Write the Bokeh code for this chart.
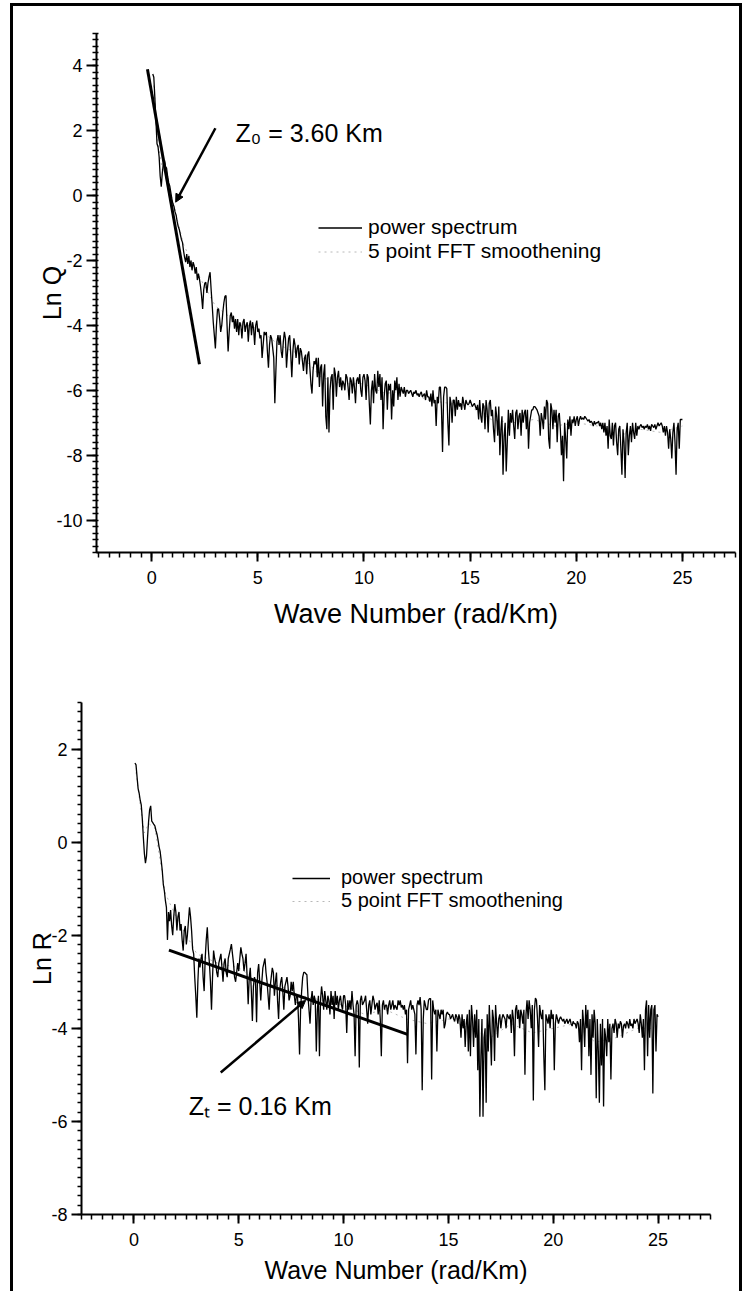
import numpy as np
from bokeh.plotting import figure
from bokeh.models import (Range1d, FixedTicker, Legend, LegendItem, Label, Arrow, NormalHead)
from bokeh.embed import file_html
from bokeh.resources import INLINE

# ---------------- data ----------------
K_STEP = 0.05  # wave-number sampling of the spectra (first sample at K_STEP)

ln_q = [
    3.75, 3.65, 3.0, 2.3, 1.6, 1.5, 1.2, 0.6, 0.28, 0.7, 1.0, 1.1, 0.9, 0.85, 0.6, 0.4, 0.3, 0.1, -0.1, -0.25,
    -0.33, -0.5, -0.6, -0.8, -0.95, -1.04, -1.2, -1.35, -1.44, -1.7, -1.9, -2.05, -1.8, -2.1, -1.86, -2.2, -2.0, -2.3, -2.05, -2.16,
    -2.4, -2.2, -2.6, -2.4, -2.57, -2.8, -3.1, -3.49, -2.9, -2.7, -2.67, -3.0, -2.7, -2.5, -2.36, -2.9, -3.38, -3.9, -4.3, -4.71,
    -4.0, -3.5, -3.49, -3.8, -4.2, -4.0, -3.6, -3.3, -3.1, -3.08, -4.0, -4.8, -4.2, -3.7, -3.6, -3.9, -3.7, -4.1, -3.8, -4.2,
    -3.8, -4.3, -3.9, -4.0, -4.4, -3.9, -3.8, -4.2, -4.0, -3.9, -4.5, -4.0, -3.85, -4.3, -3.9, -4.1, -4.6, -4.0, -3.85, -4.2,
    -4.1, -4.4, -4.3, -5.0, -4.6, -4.2, -4.3, -4.2, -4.8, -5.3, -4.6, -4.3, -4.4, -4.7, -5.0, -6.4, -5.4, -4.5, -4.3, -4.6,
    -4.3, -4.8, -5.0, -4.5, -4.2, -4.4, -5.3, -4.8, -4.4, -4.3, -4.9, -5.6, -4.8, -4.4, -4.6, -5.0, -4.7, -4.6, -5.2, -4.7,
    -4.8, -5.1, -5.4, -5.0, -4.9, -5.5, -4.9, -4.8, -5.3, -5.8, -6.1, -5.4, -5.1, -5.2, -5.0, -5.6, -5.0, -5.9, -5.3, -5.2,
    -6.5, -5.5, -5.2, -6.8, -7.2, -5.6, -7.3, -6.0, -5.6, -5.5, -6.6, -5.3, -5.5, -6.2, -5.6, -5.4, -5.9, -5.6, -6.0, -5.7,
    -5.8, -6.0, -5.5, -5.6, -5.9, -6.3, -5.6, -5.7, -6.1, -5.6, -5.9, -6.4, -5.7, -5.6, -5.8, -5.5, -6.0, -6.2, -5.6, -5.5,
    -5.7, -6.3, -5.5, -5.6, -6.4, -7.05, -6.0, -5.7, -6.4, -5.5, -6.0, -6.1, -5.4, -5.9, -5.5, -6.3, -5.6, -7.2, -6.2, -5.8,
    -5.7, -6.6, -5.8, -6.0, -5.8, -6.9, -6.0, -6.5, -5.7, -6.0, -5.6, -6.3, -5.8, -6.2, -5.9, -6.0, -6.1, -5.9, -6.2, -6.0,
    -6.0, -6.1, -6.05, -6.0, -6.1, -6.2, -6.05, -6.1, -6.0, -6.15, -6.1, -6.2, -6.1, -6.05, -6.2, -6.15, -6.1, -6.3, -6.0, -6.2,
    -6.2, -6.35, -6.1, -6.5, -6.0, -6.4, -6.3, -7.1, -6.2, -6.4, -5.9, -5.9, -6.6, -7.9, -6.2, -5.9, -5.9, -5.95, -7.0, -7.7,
    -6.2, -6.4, -7.0, -6.3, -6.3, -6.8, -6.2, -6.6, -6.3, -6.5, -6.4, -6.6, -6.2, -6.4, -6.6, -6.3, -6.4, -6.45, -6.4, -6.3,
    -6.4, -6.5, -6.45, -6.4, -6.5, -6.6, -6.45, -6.9, -6.3, -6.8, -7.0, -6.4, -6.5, -7.2, -6.3, -6.6, -7.3, -6.4, -6.3, -6.8,
    -6.6, -7.2, -7.6, -6.5, -6.8, -7.4, -6.5, -8.0, -7.2, -6.8, -8.6, -7.4, -7.0, -8.5, -7.6, -6.6, -7.4, -6.7, -7.0, -6.6,
    -7.1, -7.5, -6.7, -6.6, -7.2, -6.8, -6.7, -7.4, -6.6, -7.0, -6.7, -6.6, -7.2, -6.6, -7.8, -7.0, -6.8, -6.6, -6.6, -6.5,
    -6.5, -6.55, -6.6, -6.7, -6.8, -7.4, -6.7, -6.9, -7.2, -6.5, -6.9, -6.3, -6.4, -7.5, -7.8, -6.4, -6.6, -7.2, -6.6, -7.0,
    -6.6, -7.6, -6.8, -6.7, -7.2, -8.0, -7.4, -8.8, -7.0, -7.5, -8.1, -6.9, -7.2, -6.8, -7.4, -6.9, -7.0, -6.8, -7.1, -6.9,
    -6.8, -7.1, -6.9, -6.8, -6.9, -6.85, -6.9, -6.8, -6.85, -6.9, -6.95, -6.9, -7.0, -6.95, -7.0, -7.1, -6.95, -7.05, -7.0, -7.0,
    -6.95, -7.1, -7.0, -7.2, -7.0, -7.3, -7.0, -7.4, -7.1, -7.8, -6.9, -7.4, -7.5, -7.0, -7.7, -7.1, -7.0, -7.6, -8.0, -7.2,
    -7.1, -7.8, -8.6, -7.2, -7.6, -8.7, -7.3, -7.0, -8.0, -7.4, -7.1, -7.6, -7.0, -7.3, -7.5, -7.0, -7.4, -7.1, -7.2, -7.1,
    -7.05, -7.15, -7.1, -7.2, -7.1, -7.15, -7.05, -7.2, -7.1, -7.25, -7.05, -7.1, -7.15, -7.05, -7.2, -7.1, -7.0, -7.1, -7.05, -7.0,
    -7.1, -7.3, -7.1, -7.4, -7.1, -7.3, -7.8, -7.2, -7.5, -8.1, -7.3, -7.0, -7.6, -8.6, -7.2, -7.0, -7.8, -6.9, -6.9, -6.9,
]

ln_r = [
    1.7, 1.66, 1.4, 1.15, 1.05, 0.9, 0.8, 0.5, 0.1, -0.25, -0.45, -0.3, 0.1, 0.45, 0.7, 0.78, 0.45, 0.42, 0.38, 0.35,
    0.25, 0.17, 0.05, -0.1, -0.2, -0.39, -0.6, -0.9, -1.04, -1.25, -1.4, -2.1, -1.5, -1.7, -1.46, -1.8, -2.0, -1.6, -1.33, -1.5,
    -1.9, -1.6, -1.5, -1.9, -1.76, -2.1, -2.33, -1.9, -1.8, -2.2, -2.0, -1.7, -1.4, -1.6, -1.9, -2.3, -2.4, -2.9, -3.3, -3.77,
    -3.0, -2.5, -2.69, -2.5, -2.4, -2.9, -3.2, -2.5, -2.1, -1.83, -2.3, -2.6, -3.0, -3.6, -2.9, -2.33, -2.5, -2.6, -2.8, -2.9,
    -2.6, -2.5, -2.4, -2.7, -3.0, -2.6, -2.5, -2.8, -2.9, -2.5, -2.4, -2.3, -2.19, -2.4, -2.6, -2.9, -3.0, -2.8, -2.6, -2.77,
    -2.5, -2.26, -2.4, -2.5, -2.77, -2.6, -2.4, -2.9, -3.48, -2.9, -2.7, -3.2, -3.84, -3.1, -2.9, -3.0, -3.87, -2.8, -2.62, -3.0,
    -3.4, -3.0, -2.7, -2.6, -2.5, -2.8, -3.0, -3.3, -3.6, -3.1, -2.9, -2.7, -2.8, -3.3, -3.0, -2.8, -3.4, -3.8, -3.2, -3.0,
    -2.9, -3.2, -3.6, -3.1, -3.0, -2.9, -3.1, -3.4, -3.3, -3.0, -3.2, -3.0, -3.3, -3.5, -3.3, -3.3, -3.8, -4.56, -3.6, -3.2,
    -2.9, -2.8, -2.8, -2.83, -2.85, -3.3, -3.6, -3.9, -3.4, -3.2, -3.5, -3.3, -3.4, -4.5, -3.6, -3.3, -4.6, -3.4, -3.1, -3.3,
    -3.6, -3.2, -3.4, -3.6, -3.3, -3.4, -3.7, -3.2, -3.5, -3.3, -3.8, -3.2, -3.5, -3.3, -3.6, -3.4, -3.3, -3.5, -3.6, -3.3,
    -3.3, -3.5, -4.1, -3.4, -3.6, -3.4, -3.6, -3.2, -3.5, -3.7, -4.6, -3.5, -3.4, -3.5, -4.84, -3.4, -3.3, -3.5, -3.45, -3.4,
    -3.3, -3.6, -3.9, -3.5, -3.4, -3.7, -3.5, -3.3, -3.4, -3.6, -3.5, -3.45, -3.7, -3.4, -3.8, -4.6, -3.5, -3.4, -3.6, -3.5,
    -3.5, -3.7, -3.5, -3.4, -3.6, -3.5, -3.4, -3.6, -3.5, -3.55, -3.6, -3.4, -3.5, -3.4, -3.55, -3.5, -3.6, -3.5, -3.7, -3.6,
    -4.75, -3.6, -3.5, -3.4, -3.6, -3.5, -3.6, -3.7, -4.56, -3.5, -3.4, -3.5, -3.33, -3.6, -5.33, -3.8, -3.4, -3.5, -3.6, -3.6,
    -3.4, -3.36, -3.36, -5.1, -3.4, -3.6, -3.7, -3.6, -4.5, -3.6, -3.7, -3.8, -3.6, -3.7, -3.6, -4.0, -3.9, -3.7, -3.65, -3.7,
    -3.7, -3.8, -3.75, -3.7, -3.8, -3.85, -3.7, -3.75, -3.9, -3.7, -3.8, -4.2, -3.7, -4.0, -3.8, -4.4, -3.9, -3.7, -4.5, -3.6,
    -4.6, -3.5, -3.8, -4.4, -3.7, -4.2, -3.6, -4.9, -3.8, -5.9, -4.6, -3.8, -5.9, -4.2, -4.0, -5.6, -3.7, -4.5, -3.5, -4.1,
    -4.8, -3.6, -3.8, -4.7, -3.5, -3.9, -4.2, -3.8, -3.7, -4.0, -3.8, -3.7, -3.75, -3.8, -4.0, -3.7, -3.75, -3.8, -3.7, -4.1,
    -3.6, -3.8, -4.6, -3.6, -3.5, -3.8, -3.6, -4.0, -3.6, -3.7, -3.9, -3.6, -5.0, -3.7, -3.4, -3.8, -3.4, -3.6, -4.0, -3.5,
    -5.55, -3.6, -3.35, -3.4, -3.8, -4.4, -3.5, -3.7, -3.8, -3.6, -4.6, -5.33, -3.7, -3.8, -3.9, -3.7, -4.0, -3.6, -3.8, -3.7,
    -4.9, -3.9, -3.7, -3.8, -3.9, -3.8, -3.75, -3.8, -3.85, -3.8, -3.9, -3.85, -3.8, -3.9, -3.85, -3.8, -3.9, -3.95, -3.85, -3.9,
    -3.9, -4.0, -3.85, -3.9, -4.3, -3.8, -4.9, -3.6, -3.9, -4.4, -3.5, -4.0, -3.6, -4.6, -3.8, -5.0, -3.7, -4.2, -3.6, -3.9,
    -5.5, -3.8, -4.5, -5.6, -3.9, -4.8, -3.8, -5.68, -4.0, -4.2, -4.6, -3.8, -4.3, -3.9, -5.1, -4.0, -3.9, -4.1, -3.8, -3.9,
    -4.2, -3.9, -4.0, -3.85, -3.9, -4.2, -3.95, -3.9, -4.0, -3.85, -3.9, -4.0, -3.8, -3.95, -3.9, -4.0, -3.8, -3.9, -3.85, -3.8,
    -3.9, -4.1, -3.7, -3.9, -4.2, -3.8, -4.9, -3.6, -3.4, -4.6, -3.5, -4.2, -3.6, -3.5, -5.4, -3.6, -3.5, -4.5, -3.7, -3.75,
]

smooth_k = [0.1, 0.3, 0.5, 0.7, 1.0, 1.5, 2, 3, 4, 5, 6, 7, 8, 9, 10, 11, 12,
            13, 14, 15, 16, 17, 18, 19, 20, 21, 22, 23, 24, 25]
smooth_q = [3.4, 1.6, 0.8, 0.6, -0.2, -1.5, -2.2, -3.4, -3.9, -4.1, -4.6, -4.9,
            -5.6, -5.8, -5.8, -6.1, -6.0, -6.3, -6.4, -6.5, -6.9, -7.0, -6.9,
            -7.1, -7.0, -7.1, -7.4, -7.2, -7.3, -7.1]
smooth_r = [1.5, 0.8, 0.2, 0.4, 0.3, -1.1, -1.6, -2.4, -2.6, -2.7, -3.0, -3.1,
            -3.3, -3.4, -3.5, -3.7, -3.6, -3.8, -3.9, -3.8, -4.0, -4.2, -3.9,
            -4.1, -4.0, -3.9, -4.3, -4.2, -4.0, -4.0]

fit_q_k = [-0.2, 2.25]
fit_q = [3.9, -5.2]
fit_r_k = [1.67, 13.05]
fit_r = [-2.32, -4.13]

y_ticks_q = [-10, -8, -6, -4, -2, 0, 2, 4]
y_ticks_r = [-8, -6, -4, -2, 0, 2]
x_ticks = [0, 5, 10, 15, 20, 25]

FONT = "Liberation Sans"


def k_grid(vals):
    return np.round(K_STEP * (np.arange(len(vals)) + 1), 3)


def style_axes(p, y_minor_in):
    for ax in (p.xaxis[0], p.yaxis[0]):
        ax.axis_line_width = 2
        ax.axis_line_color = "black"
        ax.major_tick_line_width = 2
        ax.minor_tick_line_width = 1.5
        ax.major_tick_line_color = "black"
        ax.minor_tick_line_color = "black"
        ax.major_label_text_font = FONT
        ax.major_label_text_font_size = "18px"
        ax.major_label_text_color = "black"
        ax.axis_label_text_font = FONT
        ax.axis_label_text_font_style = "normal"
        ax.axis_label_text_color = "black"
        ax.major_tick_in = 0
        ax.minor_tick_in = 0
    p.xaxis.major_tick_out = 9
    p.xaxis.minor_tick_out = 5
    p.yaxis.major_tick_out = 10
    p.yaxis.minor_tick_out = 4
    p.yaxis.minor_tick_in = y_minor_in
    p.xgrid.visible = False
    p.ygrid.visible = False
    p.outline_line_color = None


def make_panel(y_vals, sm_vals, fit_k, fit_v, yr, xr, yticks, ylabel,
               height, borders, legend_loc, label_txt, label_xy, arrow_pts,
               xlabel_size, xlabel_standoff, ylabel_standoff, y_minor_in,
               leg_font, leg_row, glyph_w, leg_standoff, styles):
    p = figure(width=732, height=height, output_backend="svg",
               toolbar_location=None, x_range=Range1d(*xr), y_range=Range1d(*yr),
               min_border_left=borders[0], min_border_right=borders[1],
               min_border_top=borders[2], min_border_bottom=borders[3],
               background_fill_color="white", border_fill_color="white",
               styles=styles)
    p.xaxis.ticker = FixedTicker(ticks=x_ticks,
                                 minor_ticks=[i * 0.5 for i in range(-5, 56)])
    p.yaxis.ticker = FixedTicker(ticks=yticks,
                                 minor_ticks=[round(i * 0.2, 1) for i in range(-60, 30)])
    p.yaxis.major_label_overrides = {t: str(t) for t in yticks}
    p.xaxis.axis_label = "Wave Number (rad/Km)"
    p.yaxis.axis_label = ylabel
    style_axes(p, y_minor_in)
    p.xaxis.axis_label_text_font_size = xlabel_size
    p.yaxis.axis_label_text_font_size = "25px"
    p.xaxis.major_label_standoff = 9
    p.yaxis.major_label_standoff = 4
    p.xaxis.axis_label_standoff = xlabel_standoff
    p.yaxis.axis_label_standoff = ylabel_standoff

    r_sm = p.line(smooth_k, sm_vals, line_color="#9a9a9a", line_width=1,
                  line_dash="dotted", line_alpha=0.7)
    r_sp = p.line(k_grid(y_vals), y_vals, line_color="black", line_width=1.3)
    p.line(fit_k, fit_v, line_color="black", line_width=3)

    leg = Legend(items=[LegendItem(label="power spectrum", renderers=[r_sp]),
                        LegendItem(label="5 point FFT smoothening", renderers=[r_sm])],
                 location=legend_loc, border_line_color=None,
                 background_fill_alpha=0, padding=0, margin=0, spacing=0,
                 glyph_width=glyph_w, glyph_height=leg_row, label_height=leg_row,
                 label_standoff=leg_standoff, label_text_font=FONT,
                 label_text_font_size=leg_font, label_text_color="black")
    p.add_layout(leg)

    p.add_layout(Label(x=label_xy[0], y=label_xy[1], text=label_txt,
                       text_font=FONT, text_font_size="25px", text_color="black",
                       text_baseline="alphabetic", text_align="left"))
    p.add_layout(Arrow(x_start=arrow_pts[0], y_start=arrow_pts[1],
                       x_end=arrow_pts[2], y_end=arrow_pts[3], line_width=2.5,
                       line_color="black",
                       end=NormalHead(size=8, fill_color="black", line_color="black")))
    return p


BORDER = "3px solid black"
p1 = make_panel(ln_q, smooth_q, fit_q_k, fit_q, (-11, 5), (-2.6, 27.5),
                y_ticks_q, "Ln Q", 640, (83, 10, 27, 94), (222, 289),
                "Z\u2080 = 3.60 Km", (3.95, 1.93), (3.0, 2.08, 1.13, -0.2),
                "27px", 12, -13, 2, "21px", 23, 44, 6,
                {"margin-left": "10px", "margin-top": "3px",
                 "border-left": BORDER, "border-top": BORDER, "border-right": BORDER})
p2 = make_panel(ln_r, smooth_r, fit_r_k, fit_r, (-8, 3), (-2.5, 27.5),
                y_ticks_r, "Ln R", 648, (68, 35, 59, 77), (211, 302),
                "Z\u209c = 0.16 Km", (2.62, -5.66), (4.14, -4.95, 8.19, -3.4),
                "25px", 7, -8, 0, "20px", 20, 38, 11,
                {"margin-left": "10px",
                 "border-left": BORDER, "border-right": BORDER})

open("out.html", "w").write(file_html([p1, p2], INLINE))
